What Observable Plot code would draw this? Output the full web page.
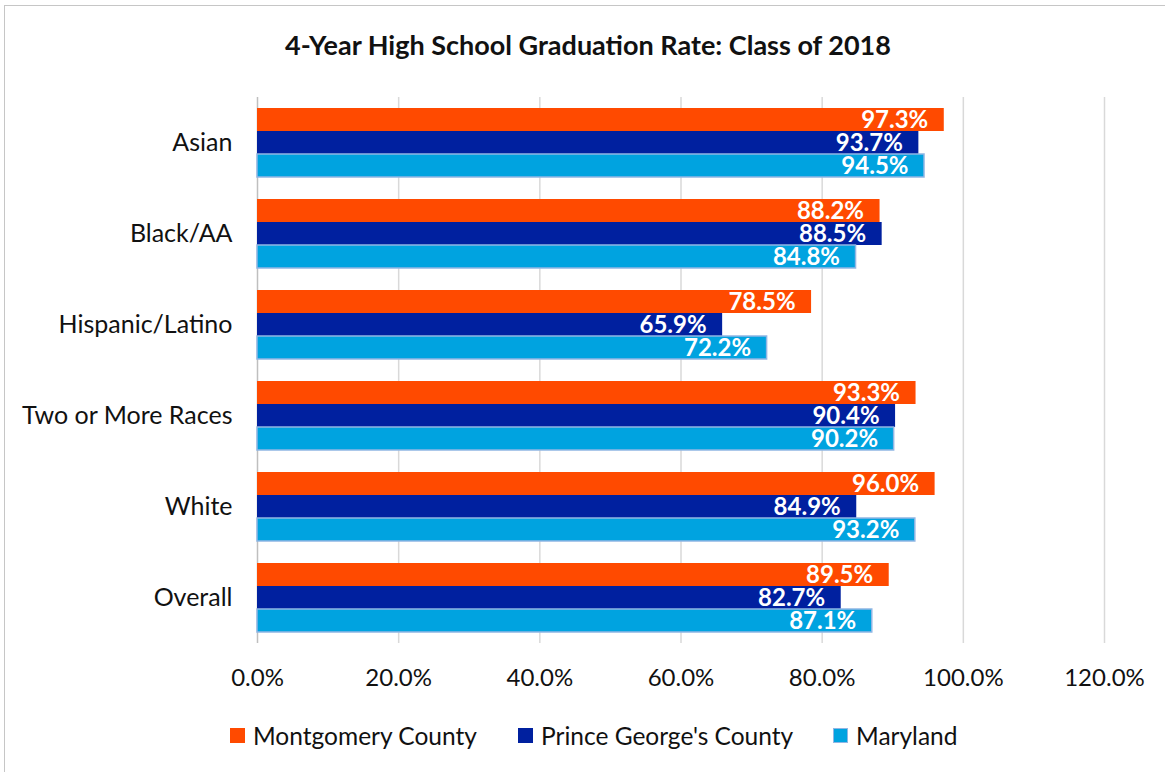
<!DOCTYPE html>
<html>
<head>
<meta charset="utf-8">
<script src="https://cdn.jsdelivr.net/npm/d3@7"></script>
<script src="https://cdn.jsdelivr.net/npm/@observablehq/plot@0.6"></script>
<style>
  html, body { margin: 0; padding: 0; background: #fff; }
  #wrap { position: relative; width: 1165px; height: 772px; overflow: hidden; font-family: Lato, "Open Sans", sans-serif; color: #111; }
  #frame { position: absolute; left: 4px; top: 5px; width: 1200px; height: 800px; border-left: 1.5px solid #c6c6c6; border-top: 1.5px solid #c6c6c6; pointer-events: none; }
  #title { height: 70px; padding-top: 10px; line-height: 70px; text-align: center; font-weight: bold; font-size: 27px; padding-left: 11px; }
  #chart svg { display: block; }
  #legend { height: 50px; display: flex; align-items: center; font-size: 24.5px; }
  .item { position: absolute; display: flex; align-items: center; }
  .sw { width: 15px; height: 15px; margin-right: 8px; box-sizing: border-box; }
</style>
</head>
<body>
<div id="wrap">
  <div id="frame"></div>
  <div id="title">4-Year High School Graduation Rate: Class of 2018</div>
  <div id="chart"></div>
  <div id="legend"></div>
</div>
<script>
const categories = ["Asian", "Black/AA", "Hispanic/Latino", "Two or More Races", "White", "Overall"];
const series = ["Montgomery County", "Prince George's County", "Maryland"];
const montgomery = [97.3, 88.2, 78.5, 93.3, 96.0, 89.5];
const princeGeorges = [93.7, 88.5, 65.9, 90.4, 84.9, 82.7];
const maryland = [94.5, 84.8, 72.2, 90.2, 93.2, 87.1];
const xTicks = [0, 20, 40, 60, 80, 100, 120];
const colors = ["#FF4A00", "#00209F", "#00A3E0"];

const seriesValues = [montgomery, princeGeorges, maryland];
const data = [];
categories.forEach((c, i) => {
  series.forEach((s, j) => data.push({category: c, series: s, value: seriesValues[j][i]}));
});

const chart = Plot.plot({
  width: 1165,
  height: 630,
  marginTop: 15,
  marginBottom: 66,
  marginLeft: 257,
  marginRight: 61,
  style: {fontFamily: "Lato, 'Open Sans', sans-serif", fontSize: "25px", color: "#111", background: "#fff"},
  x: {domain: [0, 120], ticks: xTicks, label: null, axis: null},
  y: {domain: series, paddingInner: 0, paddingOuter: 0.41, axis: null},
  fy: {domain: categories, padding: 0, axis: null},
  color: {domain: series, range: colors},
  marks: [
    Plot.gridX(xTicks.filter(d => d !== 0), {stroke: "#d9d9d9", strokeOpacity: 1, strokeWidth: 1.5}),
    Plot.ruleX([0], {stroke: "#bfbfbf", strokeWidth: 1.5}),
    Plot.barX(data, {fy: "category", y: "series", x: "value", fill: "series", insetTop: 0, insetBottom: 0}),
    Plot.barX(data.filter(d => d.series === "Maryland"), {fy: "category", y: "series", x: "value", fill: "none", stroke: "#90b6e4", strokeWidth: 1.5}),
    Plot.text(data, {fy: "category", y: "series", x: "value", text: d => d.value.toFixed(1) + "%", textAnchor: "end", dx: -16, fill: "white", fontWeight: "bold", fontSize: 24}),
    Plot.axisFy({anchor: "left", tickSize: 0, tickPadding: 25, label: null, fontSize: 25}),
    Plot.axisX(xTicks, {anchor: "bottom", tickSize: 0, tickPadding: 25, tickFormat: d => d.toFixed(1) + "%", label: null, fontSize: 24, facetAnchor: "bottom"})
  ]
});
document.getElementById("chart").appendChild(chart);

const legend = document.getElementById("legend");
const pos = [230, 518, 833];
series.forEach((s, i) => {
  const it = document.createElement("div");
  it.className = "item";
  it.style.left = pos[i] + "px";
  const sw = document.createElement("div");
  sw.className = "sw";
  sw.style.background = colors[i];
  if (s === "Maryland") sw.style.border = "1.5px solid #90b6e4";
  const t = document.createElement("span");
  t.textContent = s;
  it.appendChild(sw); it.appendChild(t);
  legend.appendChild(it);
});
legend.style.position = "relative";
</script>
</body>
</html>
